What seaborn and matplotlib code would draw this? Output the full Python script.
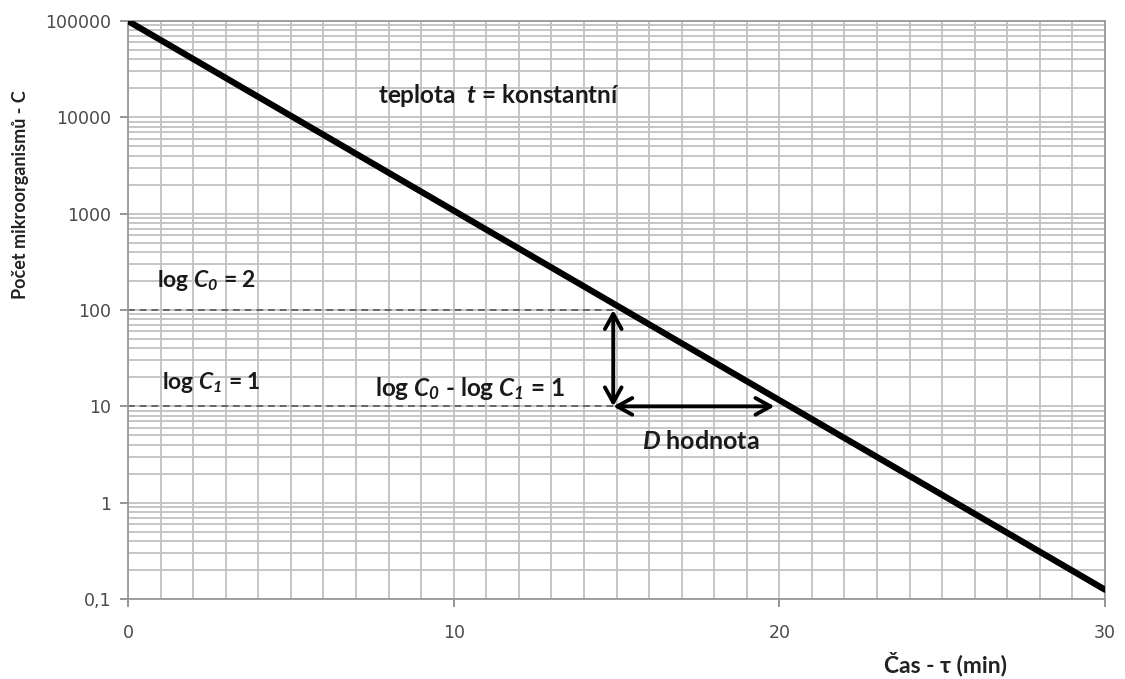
import matplotlib
matplotlib.use("Agg")
import matplotlib.pyplot as plt
import matplotlib.ticker as mticker
import seaborn as sns
import pandas as pd
import numpy as np

# Data
time_min = [0, 30]
count_C = [100000, 0.125]
x_ticks = [0, 10, 20, 30]
y_ticks = [0.1, 1, 10, 100, 1000, 10000, 100000]
y_tick_labels = ["0,1", "1", "10", "100", "1000", "10000", "100000"]
ref_levels = [100, 10]          # log C0 = 2, log C1 = 1
d_start, d_end = 14.9, 19.85     # D value interval (min)

sns.set_theme(style="white")
plt.rcParams['font.family'] = ['Lato', 'DejaVu Sans']
plt.rcParams['mathtext.fontset'] = 'custom'
plt.rcParams['mathtext.it'] = 'Lato:bold:italic'
plt.rcParams['mathtext.bf'] = 'Lato:bold'
plt.rcParams['mathtext.rm'] = 'Lato:bold:italic'

fig = plt.figure(figsize=(11.25, 6.79), dpi=100)
ax = fig.add_axes([0.1138, 0.1178, 0.8684, 0.8512])

df = pd.DataFrame({"t": time_min, "C": count_C})
ax.set_yscale("log")
ax.set_xlim(0, 30)
ax.set_ylim(0.1, 100000)

# grid
grid_c = "#c2c2c2"
ax.xaxis.set_minor_locator(mticker.MultipleLocator(1))
ax.yaxis.set_minor_locator(mticker.LogLocator(base=10, subs=np.arange(2, 10)))
ax.grid(True, which="major", color=grid_c, lw=1.3)
ax.grid(True, which="minor", color=grid_c, lw=1.3)
ax.set_axisbelow(True)

# reference dashed lines
for lvl in ref_levels:
    ax.plot([0, 15], [lvl, lvl], ls=(0, (3.5, 2.5)), color="#666666", lw=1.4, zorder=2)

sns.lineplot(data=df, x="t", y="C", ax=ax, color="black", lw=4.5, zorder=3)

# arrows
astyle = "<->,head_length=0.9,head_width=0.5"
ax.annotate("", xy=(d_start, ref_levels[0]), xytext=(d_start, ref_levels[1]),
            arrowprops=dict(arrowstyle=astyle, color="black", lw=2.8,
                            shrinkA=0, shrinkB=0), zorder=4)
ax.annotate("", xy=(d_end, ref_levels[1]), xytext=(d_start, ref_levels[1]),
            arrowprops=dict(arrowstyle=astyle, color="black", lw=2.8,
                            shrinkA=0, shrinkB=0), zorder=4)

ax.set_xticks(x_ticks)
ax.set_xticklabels([str(v) for v in x_ticks], fontfamily="DejaVu Sans")
ax.set_yticks(y_ticks)
ax.set_yticklabels(y_tick_labels, fontfamily="DejaVu Sans")
ax.tick_params(axis="both", which="major", length=6, color="#888888", labelsize=12.5,
               labelcolor="#4a4a4a", direction="out", left=True, bottom=True)
ax.tick_params(axis="x", pad=12)
ax.tick_params(axis="y", pad=6)
ax.tick_params(axis="both", which="minor", length=0)
for s in ax.spines.values():
    s.set_color("#999999")
    s.set_linewidth(1.3)

ax.set_xlabel("")
ax.set_ylabel("")
fig.text(0.018, 1 - 195 / 679, "Počet mikroorganismů - C", rotation=90, fontsize=13,
         fontweight="bold", va="center", ha="center", color="#222222")
fig.text(946 / 1125, 1 - 664 / 679, "Čas - τ (min)", fontsize=16.5, fontweight="bold",
         ha="center", va="center", color="#222222")

# annotations
ax.text(7.68, 17000, r"teplota  $\mathit{t}$ = konstantní", fontsize=17.5,
        fontweight="bold", va="center", color="#1a1a1a")
ax.text(0.89, 205, r"log $\mathit{C}_{0}$ = 2", fontsize=16.5,
        fontweight="bold", va="center", color="#1a1a1a")
ax.text(1.04, 17.5, r"log $\mathit{C}_{1}$ = 1", fontsize=16.5,
        fontweight="bold", va="center", color="#1a1a1a")
ax.text(7.58, 15.5, r"log $\mathit{C}_{0}$ - log $\mathit{C}_{1}$ = 1",
        fontsize=17.5, fontweight="bold", va="center", color="#1a1a1a")
ax.text(15.78, 4.27, r"$\mathit{D}$ hodnota", fontsize=18, fontweight="bold",
        va="center", color="#1a1a1a")

fig.savefig("out.png", dpi=100)
